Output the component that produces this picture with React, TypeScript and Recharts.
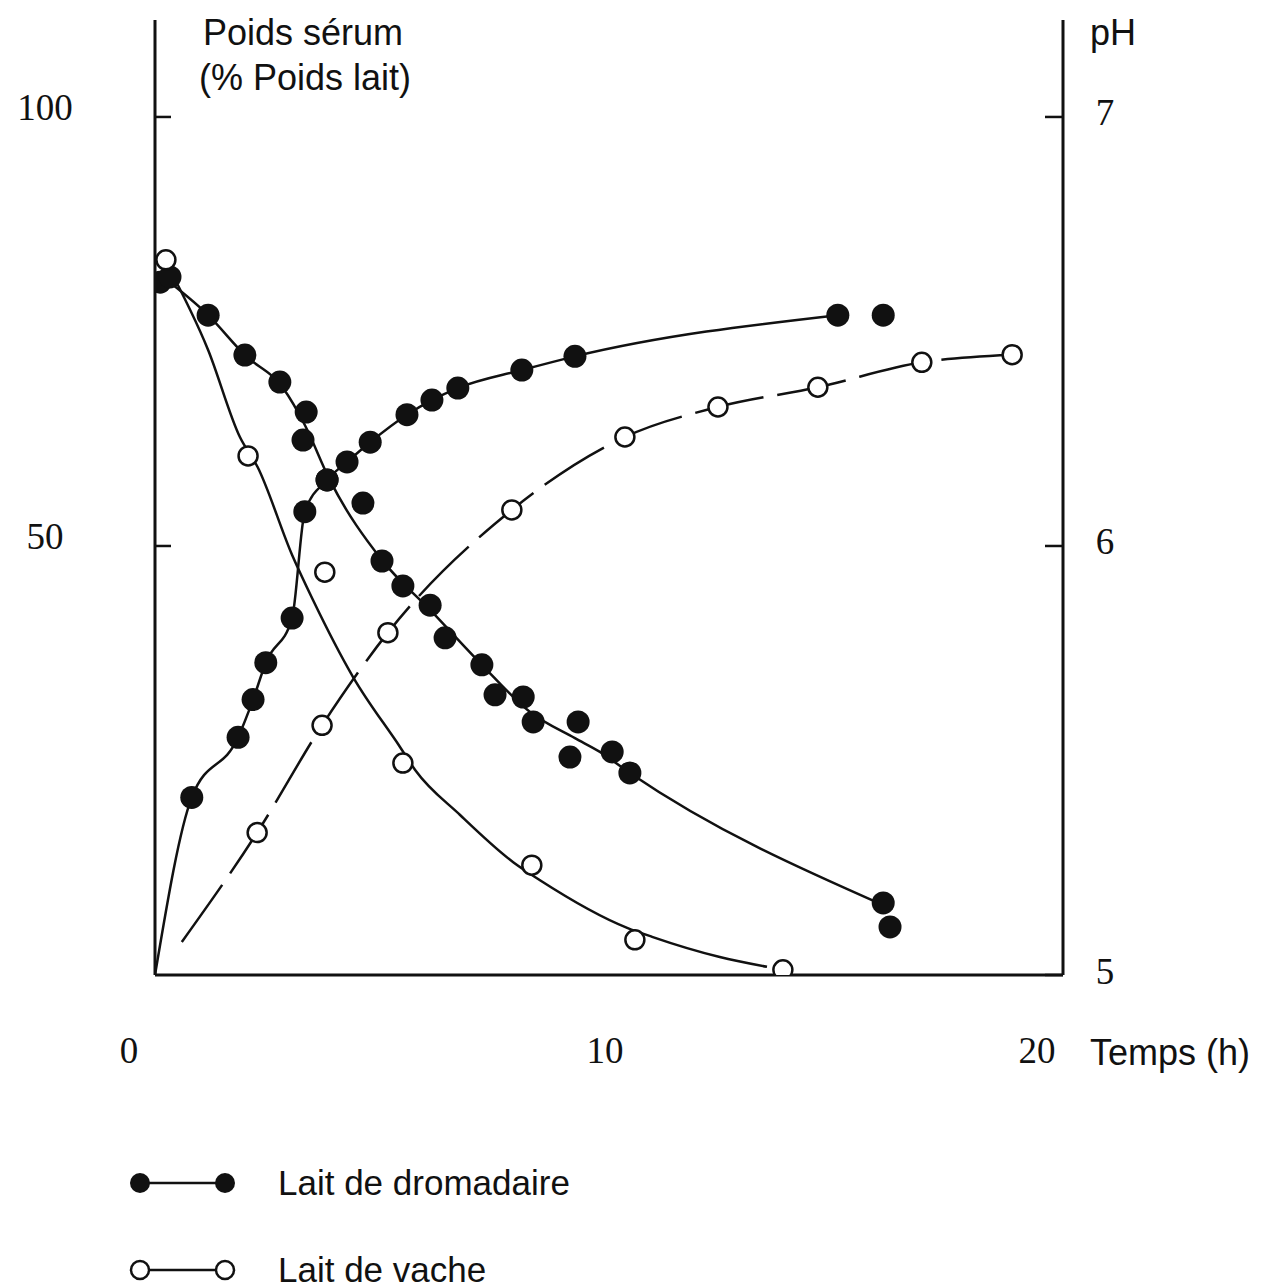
import React from "react";
import { ComposedChart, Line, Scatter, XAxis, YAxis, Legend } from "recharts";

const X_TICKS = [0, 10, 20];
const SERUM_TICKS = [50, 100];
const PH_TICKS = [5, 6, 7];

// Lait de dromadaire - poids sérum (%)
const dromSerumT = [0.81, 1.83, 2.16, 2.44, 3.02, 3.3, 3.79, 4.23, 4.74, 5.55, 6.1, 6.67, 8.08, 9.25, 15.04, 16.04];
const dromSerumV = [20.7, 27.7, 32.1, 36.4, 41.6, 54.0, 57.7, 59.8, 62.1, 65.3, 67.0, 68.4, 70.5, 72.1, 76.9, 76.9];

// Lait de dromadaire - pH (points)
const dromPhT = [0.11, 0.33, 1.17, 1.98, 2.75, 3.33, 3.26, 3.79, 4.58, 5.0, 5.46, 6.06, 6.39, 7.2, 7.49, 8.11, 8.33, 9.32, 9.14, 10.07, 10.46, 16.04, 16.19];
const dromPhV = [6.615, 6.627, 6.538, 6.445, 6.382, 6.312, 6.247, 6.154, 6.1, 5.965, 5.907, 5.862, 5.786, 5.723, 5.653, 5.648, 5.59, 5.59, 5.508, 5.52, 5.471, 5.168, 5.112];

// Lait de dromadaire - pH (courbe tracée)
const dromPhCurveT = [0.11, 1.17, 1.98, 2.82, 3.3, 3.85, 5.0, 6.06, 7.2, 8.26, 9.25, 9.8, 10.46, 16.04];
const dromPhCurveV = [6.632, 6.538, 6.445, 6.368, 6.282, 6.154, 5.967, 5.851, 5.723, 5.613, 5.552, 5.52, 5.471, 5.163];

// Lait de vache - poids sérum (%)
const vacheSerumT = [2.25, 3.68, 5.13, 7.86, 10.35, 12.4, 14.6, 16.89, 18.88];
const vacheSerumV = [16.6, 29.1, 39.9, 54.2, 62.7, 66.2, 68.5, 71.4, 72.3];
const vacheSerumStart = { t: 0.59, v: 3.85 };

// Lait de vache - pH (points)
const vachePhT = [0.24, 2.05, 3.74, 5.46, 8.3, 10.57, 13.83];
const vachePhV = [6.667, 6.21, 5.939, 5.494, 5.256, 5.082, 5.012];

// Lait de vache - pH (courbe tracée)
const vachePhCurveT = [0.24, 1.17, 1.87, 2.26, 3.02, 3.48, 4.36, 5.4, 5.73, 6.72, 7.89, 8.48, 10.4, 10.95, 12.44, 13.48];
const vachePhCurveV = [6.662, 6.457, 6.254, 6.184, 5.979, 5.874, 5.695, 5.531, 5.478, 5.373, 5.263, 5.221, 5.11, 5.089, 5.042, 5.019];

const LEGEND_ITEMS = [
  { label: "Lait de dromadaire", filled: true },
  { label: "Lait de vache", filled: false },
];

const zip = (t: number[], v: number[]) => t.map((x, i) => ({ t: x, v: v[i] }));

const dromSerum = zip(dromSerumT, dromSerumV);
const dromSerumLine = [{ t: 0, v: 0 }, ...dromSerum.slice(0, -1)];
const dromPh = zip(dromPhT, dromPhV);
const dromPhLine = zip(dromPhCurveT, dromPhCurveV);
const vacheSerum = zip(vacheSerumT, vacheSerumV);
const vacheSerumLine = [vacheSerumStart, ...vacheSerum];
const vachePh = zip(vachePhT, vachePhV);
const vachePhLine = zip(vachePhCurveT, vachePhCurveV);

const INK = "#111";
const SANS = "'Liberation Sans', Arial, sans-serif";
const SERIF = "'Liberation Serif', 'Times New Roman', serif";

const FilledDot = (p: any) => <circle cx={p.cx} cy={p.cy} r={11.5} fill={INK} />;
const OpenDot = (p: any) => (
  <circle cx={p.cx} cy={p.cy} r={9.5} fill="#fff" stroke={INK} strokeWidth={2.5} />
);

const LeftTick = ({ x, y, payload }: any) => (
  <g>
    <line x1={x} x2={x + 16} y1={y} y2={y} stroke={INK} strokeWidth={2.5} />
    <text x={x - 110} y={y - 9} textAnchor="middle" dominantBaseline="central" fontFamily={SERIF} fontSize={37} fill={INK}>
      {payload.value}
    </text>
  </g>
);

const RightTick = ({ x, y, payload }: any) => (
  <g>
    <line x1={x - 18} x2={x} y1={y} y2={y} stroke={INK} strokeWidth={2.5} />
    <text x={x + 42} y={y - 4} textAnchor="middle" dominantBaseline="central" fontFamily={SERIF} fontSize={37} fill={INK}>
      {payload.value}
    </text>
  </g>
);

const BottomTick = ({ x, y, payload }: any) => (
  <text x={x + (payload.value === 10 ? -4 : -26)} y={y + 75} textAnchor="middle" dominantBaseline="central" fontFamily={SERIF} fontSize={37} fill={INK}>
    {payload.value}
  </text>
);

const LegendContent = () => (
  <svg width={600} height={130}>
    {LEGEND_ITEMS.map((item, i) => {
      const y = 23 + i * 87;
      return (
        <g key={item.label}>
          <line x1={20} x2={105} y1={y} y2={y} stroke={INK} strokeWidth={2.5} />
          {[20, 105].map((cx) =>
            item.filled ? (
              <circle key={cx} cx={cx} cy={y} r={10} fill={INK} />
            ) : (
              <circle key={cx} cx={cx} cy={y} r={9} fill="#fff" stroke={INK} strokeWidth={2.5} />
            )
          )}
          <text x={158} y={y + 12} fontFamily={SANS} fontSize={35} fill={INK}>
            {item.label}
          </text>
        </g>
      );
    })}
  </svg>
);

export default function App() {
  return (
    <div style={{ position: "absolute", left: 0, top: 0, width: 1265, height: 1287, background: "#fff" }}>
      <ComposedChart width={1265} height={1287} margin={{ top: 20, right: 0, bottom: 0, left: 0 }}>
        <XAxis
          xAxisId="x"
          type="number"
          dataKey="t"
          domain={[0, 20]}
          ticks={X_TICKS}
          height={312}
          tickSize={0}
          tickMargin={0}
          tickLine={false}
          tick={<BottomTick />}
          axisLine={{ stroke: INK, strokeWidth: 3 }}
          allowDataOverflow
        />
        <YAxis
          yAxisId="serum"
          orientation="left"
          type="number"
          domain={[0, 111.3]}
          ticks={SERUM_TICKS}
          width={155}
          tickSize={0}
          tickMargin={0}
          tickLine={false}
          tick={<LeftTick />}
          axisLine={{ stroke: INK, strokeWidth: 3 }}
          allowDataOverflow
        />
        <YAxis
          yAxisId="ph"
          orientation="right"
          type="number"
          domain={[5, 7.226]}
          ticks={PH_TICKS}
          width={202}
          tickSize={0}
          tickMargin={0}
          tickLine={false}
          tick={<RightTick />}
          axisLine={{ stroke: INK, strokeWidth: 3 }}
          allowDataOverflow
        />

        <Line xAxisId="x" yAxisId="serum" data={dromSerumLine} dataKey="v" type="monotone" stroke={INK} strokeWidth={2.5} dot={false} isAnimationActive={false} />
        <Line xAxisId="x" yAxisId="ph" data={dromPhLine} dataKey="v" type="monotone" stroke={INK} strokeWidth={2.5} dot={false} isAnimationActive={false} />
        <Line xAxisId="x" yAxisId="serum" data={vacheSerumLine} dataKey="v" type="monotone" stroke={INK} strokeWidth={2.5} strokeDasharray="70 14" dot={false} isAnimationActive={false} />
        <Line xAxisId="x" yAxisId="ph" data={vachePhLine} dataKey="v" type="monotone" stroke={INK} strokeWidth={2.5} dot={false} isAnimationActive={false} />

        <Scatter xAxisId="x" yAxisId="serum" data={dromSerum} dataKey="v" shape={FilledDot} isAnimationActive={false} />
        <Scatter xAxisId="x" yAxisId="ph" data={dromPh} dataKey="v" shape={FilledDot} isAnimationActive={false} />
        <Scatter xAxisId="x" yAxisId="serum" data={vacheSerum} dataKey="v" shape={OpenDot} isAnimationActive={false} />
        <Scatter xAxisId="x" yAxisId="ph" data={vachePh} dataKey="v" shape={OpenDot} isAnimationActive={false} />

        <Legend
          layout="horizontal"
          verticalAlign="middle"
          content={<LegendContent />}
          wrapperStyle={{ position: "absolute", left: 120, top: 1160, width: 600, height: 130 }}
        />
      </ComposedChart>

      <svg width={1265} height={1287} style={{ position: "absolute", left: 0, top: 0, pointerEvents: "none" }}>
        <text x={303} y={45} textAnchor="middle" fontFamily={SANS} fontSize={36} fill={INK}>
          Poids sérum
        </text>
        <text x={305} y={90} textAnchor="middle" fontFamily={SANS} fontSize={36} fill={INK}>
          (% Poids lait)
        </text>
        <text x={1090} y={45} fontFamily={SANS} fontSize={36} fill={INK}>
          pH
        </text>
        <text x={1090} y={1065} fontFamily={SANS} fontSize={36} fill={INK}>
          Temps (h)
        </text>
      </svg>
    </div>
  );
}
